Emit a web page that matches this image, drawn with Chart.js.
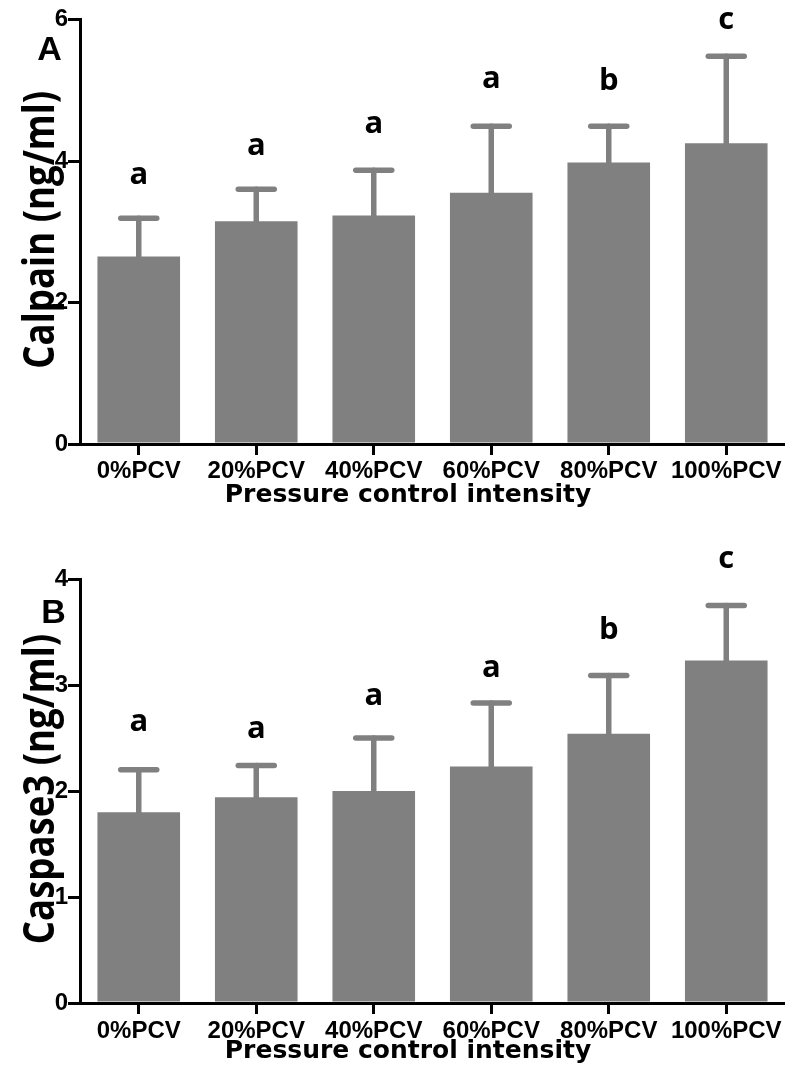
<!DOCTYPE html>
<html>
<head>
<meta charset="utf-8">
<title>Calpain / Caspase3 vs pressure control intensity</title>
<script src="https://cdn.jsdelivr.net/npm/chart.js@4.4.1/dist/chart.umd.min.js"></script>
<style>
    html, body { margin: 0; padding: 0; background: #fff; }
    #wrap { position: relative; width: 785px; height: 1070px; }
    .panel { position: absolute; left: 0; width: 785px; height: 535px; }
</style>
</head>
<body>
<div id="wrap">
    <div class="panel" style="top:0"><canvas id="chart-a" width="785" height="535"></canvas></div>
    <div class="panel" style="top:535px"><canvas id="chart-b" width="785" height="535"></canvas></div>
</div>
<script>
const groups = ['0%PCV', '20%PCV', '40%PCV', '60%PCV', '80%PCV', '100%PCV'];
const xTitle = 'Pressure control intensity';

// Panel A - Calpain (mean, upper error)
const calpainMean = [2.65, 3.15, 3.23, 3.55, 3.98, 4.25];
const calpainSD = [0.54, 0.45, 0.64, 0.94, 0.51, 1.23];
const calpainLetters = ['a', 'a', 'a', 'a', 'b', 'c'];
const calpainLetterLevel = [3.68, 4.08, 4.40, 5.03, 5.00, 5.87];
const calpainTicks = [0, 2, 4, 6];

// Panel B - Caspase3
const caspaseMean = [1.80, 1.94, 2.00, 2.23, 2.54, 3.23];
const caspaseSD = [0.40, 0.30, 0.50, 0.60, 0.55, 0.52];
const caspaseLetters = ['a', 'a', 'a', 'a', 'b', 'c'];
const caspaseLetterLevel = [2.57, 2.50, 2.81, 3.08, 3.43, 4.10];
const caspaseTicks = [0, 1, 2, 3, 4];

// error bars, significance letters, axis titles and panel tag
const panelDecor = {
    id: 'panelDecor',
    afterDatasetsDraw(chart, args, opts) {
        const { ctx, chartArea } = chart;
        const x = chart.scales.x;
        const y = chart.scales.y;
        const mean = chart.data.datasets[0].data;

        ctx.save();
        ctx.strokeStyle = '#808080';
        ctx.lineWidth = 5.5;
        ctx.lineCap = 'round';
        mean.forEach((m, i) => {
            const px = x.getPixelForValue(i);
            const base = y.getPixelForValue(m);
            const top = y.getPixelForValue(m + opts.sd[i]);
            ctx.beginPath();
            ctx.moveTo(px, base);
            ctx.lineTo(px, top);
            ctx.stroke();
            ctx.beginPath();
            ctx.moveTo(px - 18, top);
            ctx.lineTo(px + 18, top);
            ctx.stroke();
        });

        ctx.fillStyle = '#000';
        ctx.textAlign = 'center';
        ctx.textBaseline = 'alphabetic';
        ctx.font = 'bold 31px "Open Sans"';
        opts.letters.forEach((t, i) => {
            ctx.fillText(t, x.getPixelForValue(i), y.getPixelForValue(opts.letterLevel[i]));
        });

        // y title (rotated, a bit condensed like the original)
        ctx.save();
        ctx.translate(chartArea.left - 26.5, (chartArea.top + chartArea.bottom) / 2 - 2);
        ctx.rotate(-Math.PI / 2);
        ctx.scale(0.85, 1);
        ctx.font = 'bold 43px "Open Sans"';
        ctx.fillText(opts.yTitle, 0, 0);
        ctx.restore();

        ctx.font = 'bold 34px "Liberation Sans"';
        ctx.fillText(opts.tag, opts.tagX, opts.tagY);

        ctx.font = 'bold 25px "DejaVu Sans"';
        ctx.fillText(xTitle, 408, chartArea.bottom + opts.xTitleGap);
        ctx.restore();
    }
};

function makePanel(id, mean, sd, letters, levels, ticks, yTitle, tag, lay) {
    const tickFont = { family: 'Liberation Sans', size: 24, weight: 'bold' };
    return new Chart(document.getElementById(id), {
        type: 'bar',
        data: {
            labels: groups,
            datasets: [{
                data: mean,
                backgroundColor: '#808080',
                borderWidth: 0,
                barPercentage: 0.703,
                categoryPercentage: 1
            }]
        },
        options: {
            responsive: false,
            animation: false,
            events: [],
            layout: { padding: { top: lay.top, bottom: lay.bottom, left: 0, right: 0 } },
            plugins: {
                legend: { display: false },
                tooltip: { enabled: false },
                panelDecor: {
                    sd: sd,
                    letters: letters,
                    letterLevel: levels,
                    yTitle: yTitle,
                    tag: tag,
                    tagX: lay.tagX,
                    tagY: lay.tagY,
                    xTitleGap: lay.xTitleGap
                }
            },
            scales: {
                x: {
                    offset: true,
                    grid: { offset: false, drawOnChartArea: false, tickLength: 11, lineWidth: 3, color: '#000' },
                    border: { color: '#000', width: 3, z: 1 },
                    ticks: { color: '#000', font: tickFont, padding: lay.tickPad, autoSkip: false, maxRotation: 0 },
                    afterFit: s => { s.height = 45; }
                },
                y: {
                    min: 0,
                    max: ticks[ticks.length - 1],
                    afterBuildTicks: s => { s.ticks = ticks.map(v => ({ value: v })); },
                    grid: { drawOnChartArea: false, tickLength: 12, lineWidth: 3, color: '#000' },
                    border: { color: '#000', width: 3, z: 1 },
                    ticks: { color: '#000', font: tickFont, padding: 0 },
                    afterFit: s => { s.width = 80; }
                }
            }
        },
        plugins: [panelDecor]
    });
}

makePanel('chart-a', calpainMean, calpainSD, calpainLetters, calpainLetterLevel, calpainTicks,
    'Calpain (ng/ml)', 'A', { top: 19.5, bottom: 46, tickPad: 2, tagX: 49.5, tagY: 60, xTitleGap: 57.7 });

makePanel('chart-b', caspaseMean, caspaseSD, caspaseLetters, caspaseLetterLevel, caspaseTicks,
    'Caspase3 (ng/ml)', 'B', { top: 44, bottom: 22, tickPad: 3, tagX: 53.5, tagY: 88, xTitleGap: 55.3 });
</script>
</body>
</html>
